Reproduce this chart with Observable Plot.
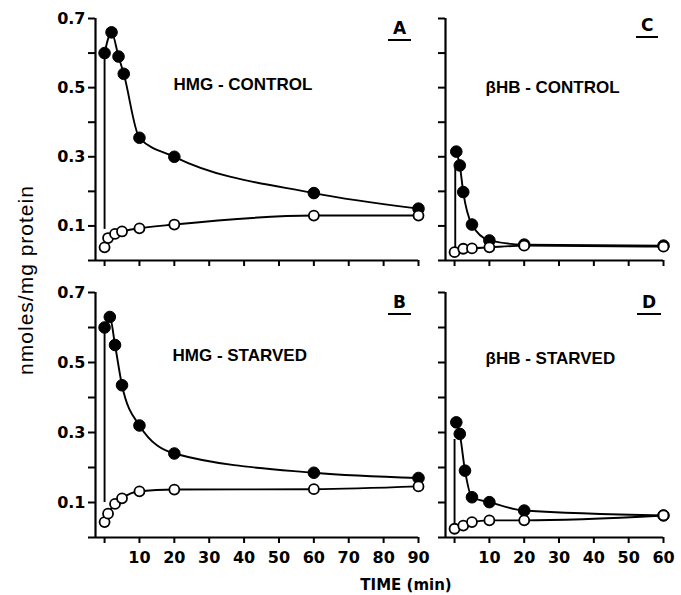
<!DOCTYPE html>
<html>
<head>
<meta charset="utf-8">
<script src="https://cdn.jsdelivr.net/npm/d3@7"></script>
<script src="https://cdn.jsdelivr.net/npm/@observablehq/plot@0.6"></script>
<style>
  html, body { margin: 0; padding: 0; background: #fff; }
  #root { position: relative; width: 681px; height: 595px; overflow: hidden; background: #fff; }
  .panel { position: absolute; }
  .letter { position: absolute; font: bold 17px "DejaVu Sans"; line-height: 1; border-bottom: 2.5px solid #000; padding: 0 5px 2px 5px; color: #000; }
  #ylab { position: absolute; left: 25px; top: 280px; transform: translate(-50%, -50%) rotate(-90deg); white-space: nowrap; font: 21px "Liberation Sans"; letter-spacing: 1px; line-height: 1; color: #000; }
  #xlab { position: absolute; left: 406px; top: 578px; transform: translateX(-50%); white-space: nowrap; font: bold 15px "DejaVu Sans"; line-height: 1; color: #000; }
</style>
</head>
<body>
<div id="root"></div>
<script>
// ---------- data ----------
// Panel A: HMG-CONTROL
const aFilledT = [0, 2, 4, 5.5, 10, 20, 60, 90];
const aFilledV = [0.60, 0.66, 0.59, 0.54, 0.355, 0.30, 0.195, 0.15];
const aOpenT   = [0, 1, 3, 5, 10, 20, 60, 90];
const aOpenV   = [0.038, 0.065, 0.077, 0.084, 0.093, 0.104, 0.13, 0.13];
// Panel B: HMG-STARVED
const bFilledT = [0, 1.5, 3, 5, 10, 20, 60, 90];
const bFilledV = [0.60, 0.63, 0.55, 0.435, 0.32, 0.24, 0.185, 0.17];
const bOpenT   = [0, 1, 3, 5, 10, 20, 60, 90];
const bOpenV   = [0.044, 0.068, 0.096, 0.112, 0.132, 0.137, 0.138, 0.146];
// Panel C: βHB-CONTROL
const cFilledT = [0.5, 1.5, 2.5, 5, 10, 20, 60];
const cFilledV = [0.315, 0.275, 0.198, 0.104, 0.058, 0.046, 0.043];
const cOpenT   = [0, 2.5, 5, 10, 20, 60];
const cOpenV   = [0.024, 0.034, 0.035, 0.038, 0.043, 0.040];
// Panel D: βHB-STARVED
const dFilledT = [0.5, 1.5, 3, 5, 10, 20, 60];
const dFilledV = [0.329, 0.296, 0.191, 0.115, 0.101, 0.077, 0.063];
const dOpenT   = [0, 2.5, 5, 10, 20, 60];
const dOpenV   = [0.025, 0.034, 0.044, 0.049, 0.049, 0.063];
// vertical rise line at the start of each panel (A, B, C, D)
const riseT    = [0, 0, 0.2, 0];
const riseLow  = [0.09, 0.10, 0.035, 0.03];
const riseHigh = [0.60, 0.60, 0.27, 0.28];

const panelTitles  = ["HMG - CONTROL", "HMG - STARVED", "\u03B2HB - CONTROL", "\u03B2HB - STARVED"];
const panelLetters = ["A", "B", "C", "D"];

const yTicks      = [0, 0.1, 0.2, 0.3, 0.4, 0.5, 0.6, 0.7];
const yTickLabels = ["", "0.1", "", "0.3", "", "0.5", "", "0.7"];
const xTicksLeft       = [0, 10, 20, 30, 40, 50, 60, 70, 80, 90];
const xTickLabelsLeft  = ["", "10", "20", "30", "40", "50", "60", "70", "80", "90"];
const xTicksRight      = [0, 10, 20, 30, 40, 50, 60];
const xTickLabelsRight = ["", "10", "20", "30", "40", "50", "60"];

const yLabel = "nmoles/mg protein";
const xLabel = "TIME (min)";

// ---------- helpers ----------
const zip = (ts, vs) => ts.map((t, i) => ({t, v: vs[i]}));
const X_MIN = -2.6;

function panel(o) {
  const filled = zip(o.filledT, o.filledV);
  const open = zip(o.openT, o.openV);
  const rise = [{t: riseT[o.idx], lo: riseLow[o.idx], hi: riseHigh[o.idx]}];
  return Plot.plot({
    width: o.width, height: o.height,
    marginLeft: o.ml, marginRight: o.mr, marginTop: o.mt, marginBottom: o.mb,
    x: {domain: [X_MIN, o.xMax], label: null},
    y: {domain: [0, 0.7], label: null},
    style: {background: "white", color: "black", fontFamily: "DejaVu Sans", fontSize: "16px", fontWeight: "bold", overflow: "visible"},
    marks: [
      Plot.axisY({ticks: yTicks, tickSize: 7, tickPadding: 3, strokeWidth: 2, label: null,
        tickFormat: d => o.showY ? (yTickLabels[yTicks.indexOf(d)] ?? "") : "",
        fontSize: 16, fontWeight: "bold", fontFamily: "DejaVu Sans"}),
      Plot.axisX({ticks: o.xTicks, tickSize: 6, tickPadding: 8, strokeWidth: 2, label: null,
        tickFormat: d => o.showX ? (o.xLabels[o.xTicks.indexOf(d)] ?? "") : "",
        fontSize: 16, fontWeight: "bold", fontFamily: "DejaVu Sans"}),
      Plot.ruleX([X_MIN], {stroke: "black", strokeWidth: 2.2}),
      Plot.ruleY([0], {stroke: "black", strokeWidth: 2.2}),
      Plot.ruleX(rise, {x: "t", y1: "lo", y2: "hi", stroke: "black", strokeWidth: 1.9}),
      Plot.line(filled, {x: "t", y: "v", curve: "monotone-x", stroke: "black", strokeWidth: 1.9}),
      Plot.line(open, {x: "t", y: "v", curve: "monotone-x", stroke: "black", strokeWidth: 1.9}),
      Plot.dot(filled, {x: "t", y: "v", r: 5.8, fill: "black", stroke: "black", strokeWidth: 1}),
      Plot.dot(open, {x: "t", y: "v", r: 5, fill: "white", stroke: "black", strokeWidth: 1.8}),
      Plot.text([panelTitles[o.idx]], {frameAnchor: "top-left", dx: o.tdx, dy: o.tdy, textAnchor: "start", lineAnchor: "middle",
        fontSize: 17, fontWeight: "bold", fontFamily: "Liberation Sans", fill: "black"})
    ]
  });
}

const root = document.getElementById("root");
function place(svg, left, top) {
  const wrap = document.createElement("div");
  wrap.className = "panel";
  wrap.style.left = left + "px";
  wrap.style.top = top + "px";
  wrap.appendChild(svg);
  root.appendChild(wrap);
}

place(panel({idx: 0, filledT: aFilledT, filledV: aFilledV, openT: aOpenT, openV: aOpenV,
  width: 430, height: 280, ml: 95, mr: 12, mt: 18, mb: 20, xMax: 90,
  xTicks: xTicksLeft, xLabels: xTickLabelsLeft, showY: true, showX: false, tdx: 78, tdy: 66}), 0, 0);
place(panel({idx: 1, filledT: bFilledT, filledV: bFilledV, openT: bOpenT, openV: bOpenV,
  width: 430, height: 315, ml: 95, mr: 12, mt: 12, mb: 58, xMax: 90,
  xTicks: xTicksLeft, xLabels: xTickLabelsLeft, showY: true, showX: true, tdx: 77, tdy: 63}), 0, 280);
place(panel({idx: 2, filledT: cFilledT, filledV: cFilledV, openT: cOpenT, openV: cOpenV,
  width: 251, height: 280, ml: 15, mr: 18, mt: 18, mb: 20, xMax: 60,
  xTicks: xTicksRight, xLabels: xTickLabelsRight, showY: false, showX: false, tdx: 40, tdy: 69}), 430, 0);
place(panel({idx: 3, filledT: dFilledT, filledV: dFilledV, openT: dOpenT, openV: dOpenV,
  width: 251, height: 315, ml: 15, mr: 18, mt: 12, mb: 58, xMax: 60,
  xTicks: xTicksRight, xLabels: xTickLabelsRight, showY: false, showX: true, tdx: 40, tdy: 66}), 430, 280);

// panel letters (underlined)
const letterPos = [[388, 20], [388, 294], [636, 17], [637, 294]];
panelLetters.forEach((L, i) => {
  const d = document.createElement("div");
  d.className = "letter";
  d.textContent = L;
  d.style.left = letterPos[i][0] + "px";
  d.style.top = letterPos[i][1] + "px";
  root.appendChild(d);
});

const yl = document.createElement("div");
yl.id = "ylab"; yl.textContent = yLabel; root.appendChild(yl);
const xl = document.createElement("div");
xl.id = "xlab"; xl.textContent = xLabel; root.appendChild(xl);
</script>
</body>
</html>
